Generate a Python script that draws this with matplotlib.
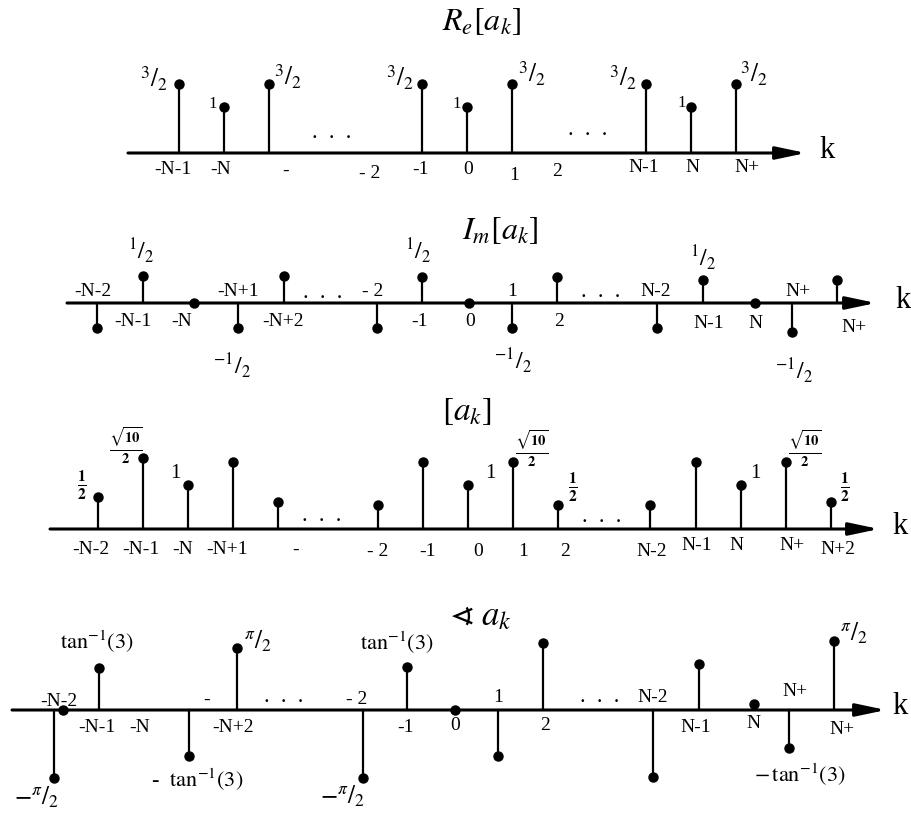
import matplotlib
matplotlib.use('Agg')
import matplotlib.pyplot as plt
from matplotlib.transforms import Affine2D

plt.rcParams['font.family'] = ['Liberation Serif', 'DejaVu Serif']
plt.rcParams['mathtext.fontset'] = 'stix'

W, H = 912, 816
S = 46.0  # pixels per unit of value

# ---- data (x positions, values in units) ----
re_x = [179, 224, 269, 422, 467, 512, 646, 691, 736]
re_v = [1.5, 1.0, 1.5, 1.5, 1.0, 1.5, 1.5, 1.0, 1.5]

im_x = [97, 143, 194, 238, 284, 377, 422, 469, 512, 557, 657, 703, 755, 792, 837]
im_v = [-0.55, 0.58, 0, -0.55, 0.58, -0.55, 0.57, 0, -0.55, 0.56, -0.55, 0.5, 0, -0.63, 0.5]

mag_x = [98, 143, 188, 233, 278, 378, 423, 468, 513, 558, 650, 696, 741, 786, 831]
mag_v = [0.7, 1.55, 0.96, 1.46, 0.59, 0.52, 1.46, 0.96, 1.46, 0.52, 0.52, 1.46, 0.96, 1.46, 0.59]

ang_x = [54, 63, 99, 189, 237, 363, 407, 455, 498, 543, 653, 699, 754, 789, 834]
ang_v = [-1.48, 0, 0.91, -1.0, 1.35, -1.48, 0.93, 0, -1.0, 1.46, -1.46, 1.0, 0.13, -0.83, 1.5]

re_ticks = [('-N-1', 173, 169), ('-N', 221, 169), ('-', 286, 171), ('- 2', 370, 174),
            ('-1', 421, 170), ('0', 468, 170), ('1', 514, 176), ('2', 557, 172),
            ('N-1', 644, 168), ('N', 692, 168), ('N+', 747, 167)]
im_ticks = [('-N-2', 93, 291), ('-N-1', 133, 321), ('-N', 182, 321), ('-N+1', 238, 291),
            ('-N+2', 283, 321), ('- 2', 373, 291), ('-1', 420, 321), ('0', 470, 322),
            ('1', 512, 291), ('2', 559, 322), ('N-2', 656, 291), ('N-1', 709, 323),
            ('N', 755, 323), ('N+', 798, 291), ('N+', 854, 327)]
mag_ticks = [('-N-2', 91, 549), ('-N-1', 141, 549), ('-N', 183, 549), ('-N+1', 227, 549),
             ('-', 296, 550), ('- 2', 378, 551), ('-1', 428, 551), ('0', 478, 551),
             ('1', 523, 551), ('2', 565, 551), ('N-2', 652, 551), ('N-1', 697, 546),
             ('N', 736, 546), ('N+', 792, 545), ('N+2', 838, 550)]
ang_ticks = [('-N-2', 59, 701), ('-N-1', 97, 727), ('-N', 140, 727), ('-', 207, 700),
             ('-N+2', 233, 727), ('- 2', 357, 700), ('-1', 406, 727), ('0', 455, 725),
             ('1', 498, 697), ('2', 545, 726), ('N-2', 653, 697), ('N-1', 696, 727),
             ('N', 753, 724), ('N+', 795, 692), ('N+', 842, 729)]

half = r'$^{3}/_{2}$'
re_vals = [(half, 154, 79, 18), ('1', 213, 104, 12), (half, 288, 77, 18), (half, 400, 78, 18),
           ('1', 457, 104, 12), (half, 532, 74, 18), (half, 623, 78, 18), ('1', 682, 103, 12),
           (half, 754, 74, 18)]
p = r'$^{1}/_{2}$'
m = r'$^{-1}/_{2}$'
im_vals = [(p, 141, 251, 17), (p, 418, 251, 17), (p, 703, 258, 17),
           (m, 232, 366, 17), (m, 513, 361, 17), (m, 794, 371, 17)]
fh = r'$\mathbf{\frac{1}{2}}$'
fs = r'$\mathbf{\frac{\sqrt{10}}{2}}$'
mag_vals = [(fh, 82, 485, 16), (fs, 126, 446, 15), ('1', 175, 473, 15),
            ('1', 490, 473, 15), (fs, 532, 449, 15), (fh, 573, 487, 16),
            ('1', 755, 473, 15), (fs, 805, 449, 15), (fh, 845, 487, 16)]
tan = r'$\mathrm{tan}^{-1}(3)$'
pi2 = r'$^{\pi}/_{2}$'
mpi2 = r'$-{}^{\pi}/_{2}$'
ang_vals = [(tan, 97, 642, 16), (pi2, 258, 641, 18), (tan, 397, 643, 16),
            (mpi2, 37, 797, 18), (r'-  $\mathrm{tan}^{-1}(3)$', 197, 780, 16), (mpi2, 343, 796, 18),
            (pi2, 854, 633, 18), (r'$-\,\mathrm{tan}^{-1}(3)$', 800, 775, 16)]

panels = [
    dict(x=re_x, v=re_v, base=153, x0=128, tip=806, k=(827, 150),
         title=(r'$R_e[a_k]$', 482, 22, 23), ticks=re_ticks, vals=re_vals,
         dots=[(332, 135), (588, 132)]),
    dict(x=im_x, v=im_v, base=303, x0=67, tip=876, k=(903, 301),
         title=(r'$I_m[a_k]$', 500, 231, 23), ticks=im_ticks, vals=im_vals,
         dots=[(323, 295), (601, 294)]),
    dict(x=mag_x, v=mag_v, base=529, x0=50, tip=879, k=(900, 527),
         title=(r'$[a_k]$', 467, 412, 24), ticks=mag_ticks, vals=mag_vals,
         dots=[(322, 518), (602, 519)]),
    dict(x=ang_x, v=ang_v, base=710, x0=12, tip=886, k=(900, 706),
         title=(r'$\sphericalangle\ a_k$', 480, 617, 25), ticks=ang_ticks, vals=ang_vals,
         dots=[(284, 699), (600, 699)]),
]

fig = plt.figure(figsize=(W / 100, H / 100), dpi=100)
px = Affine2D().scale(1 / W, -1 / H).translate(0, 1) + fig.transFigure

for pnl in panels:
    ax = fig.add_axes([0, 0, 1, 1])
    ax.patch.set_alpha(0)
    yb = pnl['base']
    ax.set_xlim(0, W)
    ax.set_ylim((yb - H) / S, yb / S)
    ax.axis('off')

    ml, sl, bl = ax.stem(pnl['x'], pnl['v'], linefmt='k-', markerfmt='ko', basefmt=' ')
    ml.set_markersize(6.5)
    sl.set_linewidth(1.6)

    ax.annotate('', xy=(pnl['tip'], 0), xytext=(pnl['x0'], 0),
                arrowprops=dict(arrowstyle='-|>,head_length=1.8,head_width=0.38',
                                lw=2.2, color='k', shrinkA=0, shrinkB=0))

    kx, ky = pnl['k']
    ax.text(kx, ky, 'k', transform=px, fontsize=22, ha='center', va='center')
    t, tx, ty, tsz = pnl['title']
    ax.text(tx, ty, t, transform=px, fontsize=tsz, ha='center', va='center')
    for s, x, y in pnl['ticks']:
        ax.text(x, y, s, transform=px, fontsize=14, ha='center', va='center')
    for s, x, y, fsz in pnl['vals']:
        ax.text(x, y, s, transform=px, fontsize=fsz, ha='center', va='center')
    for x, y in pnl['dots']:
        ax.text(x, y + 3, '.  .  .', transform=px, fontsize=16, ha='center', va='baseline')

fig.savefig('out.png', dpi=100, facecolor='white')
